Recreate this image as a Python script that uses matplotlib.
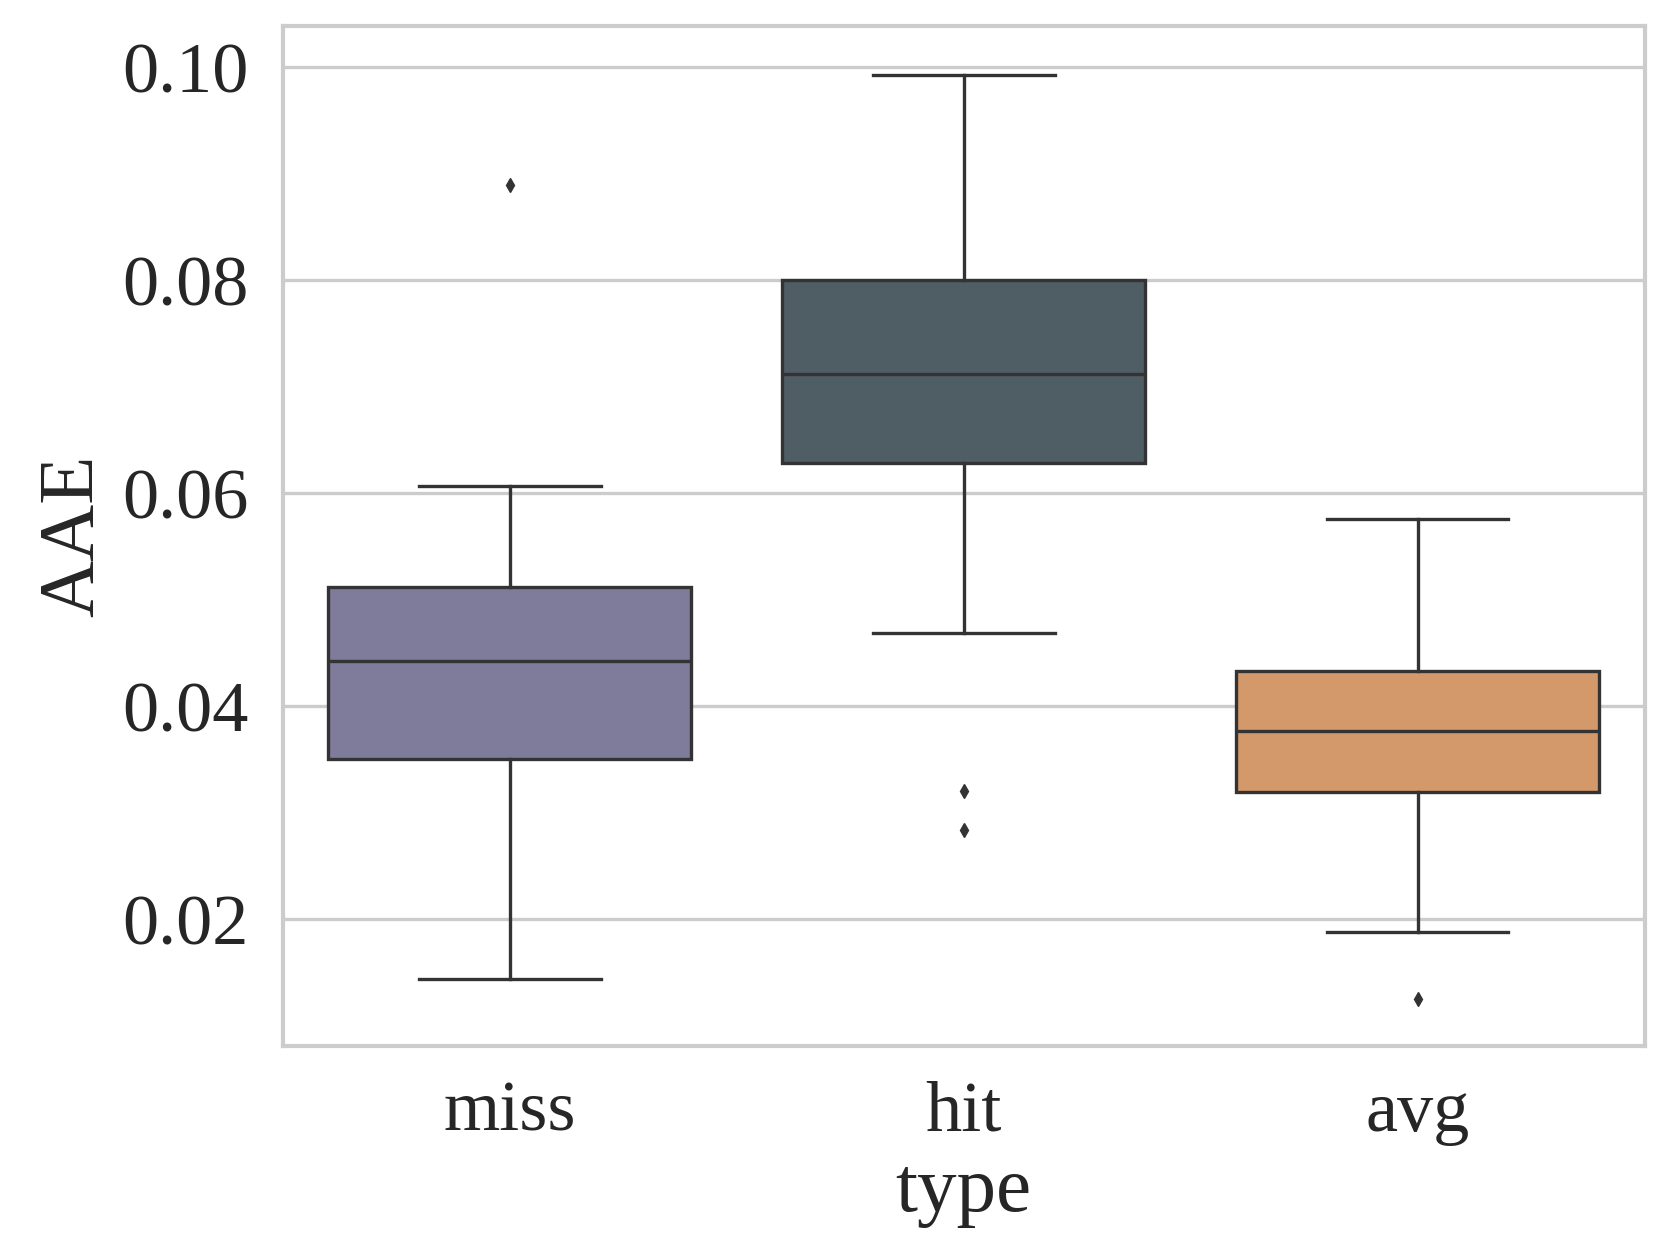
import matplotlib
matplotlib.use("Agg")
import matplotlib.pyplot as plt

categories = ["miss", "hit", "avg"]
whislo = [0.0144, 0.0469, 0.0188]
q1 = [0.0350, 0.0628, 0.0319]
med = [0.0442, 0.0712, 0.0377]
q3 = [0.0512, 0.0800, 0.0433]
whishi = [0.0607, 0.0993, 0.0576]
fliers = [[0.0889], [0.0320, 0.0284], [0.0125]]
colors = ["#7f7b9b", "#4f5e65", "#d4996a"]

plt.rcParams['font.family'] = ['Liberation Serif', 'DejaVu Serif']

fig = plt.figure(figsize=(16.6, 12.45), dpi=100)
ax = fig.add_axes([0.1705, 0.160, 0.9907 - 0.1705, 0.9795 - 0.160])

stats = []
for i, c in enumerate(categories):
    stats.append(dict(label=c, whislo=whislo[i], q1=q1[i], med=med[i],
                      q3=q3[i], whishi=whishi[i], fliers=fliers[i]))

lc = "#333333"
lw = 2.4
bp = ax.bxp(stats, positions=range(len(categories)), widths=0.8, capwidths=0.4,
            patch_artist=True, showfliers=True,
            boxprops=dict(edgecolor=lc, linewidth=lw),
            medianprops=dict(color=lc, linewidth=lw),
            whiskerprops=dict(color=lc, linewidth=lw),
            capprops=dict(color=lc, linewidth=lw),
            flierprops=dict(marker='d', markersize=7, markerfacecolor=lc,
                            markeredgecolor=lc, linestyle='none'),
            zorder=3)
for patch, col in zip(bp['boxes'], colors):
    patch.set_facecolor(col)

ax.set_xlim(-0.5, 2.5)
ax.set_ylim(0.0081, 0.1039)
ax.set_yticks([0.02, 0.04, 0.06, 0.08, 0.10])
ax.set_yticklabels(["0.02", "0.04", "0.06", "0.08", "0.10"])
ax.set_xticks(range(len(categories)))
ax.set_xticklabels(categories)

ax.yaxis.grid(True, color="#cccccc", linewidth=2.4, zorder=0)
ax.xaxis.grid(False)
ax.set_axisbelow(True)
for s in ax.spines.values():
    s.set_color("#cccccc")
    s.set_linewidth(3)
ax.tick_params(axis='both', length=0, labelsize=52, colors="#262626", pad=25)
ax.set_xlabel("type", fontsize=57, color="#262626", labelpad=8)
ax.set_ylabel("AAE", fontsize=57, color="#262626", labelpad=9)

fig.savefig("out.png", dpi=100)
